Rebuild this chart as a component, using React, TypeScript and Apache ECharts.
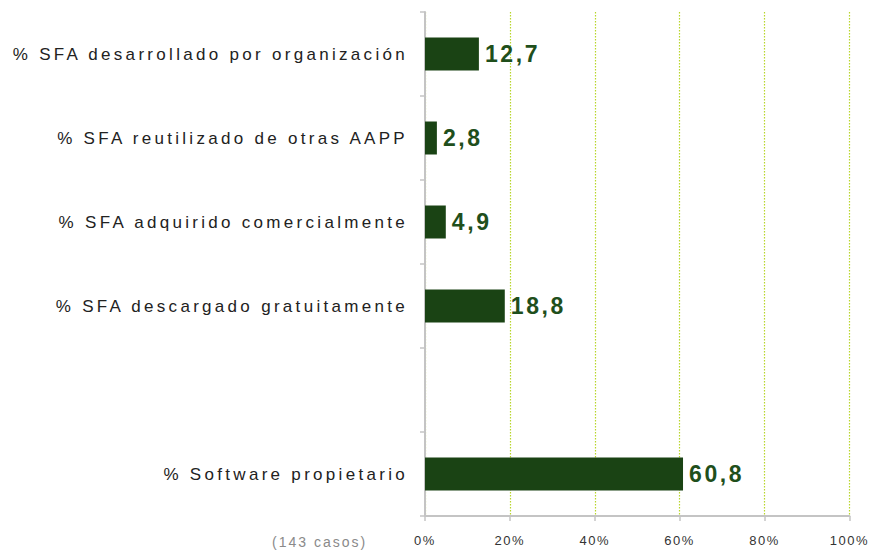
import React, { useEffect, useRef } from "react";
import * as echarts from "echarts";

const categories = [
  "% SFA desarrollado por organización",
  "% SFA reutilizado de otras AAPP",
  "% SFA adquirido comercialmente",
  "% SFA descargado gratuitamente",
  "",
  "% Software propietario",
];
const values: (number | null)[] = [12.7, 2.8, 4.9, 18.8, null, 60.8];
const xTicks = [0, 20, 40, 60, 80, 100];
const note = "(143 casos)";

export default function App() {
  const ref = useRef<HTMLDivElement>(null);
  useEffect(() => {
    if (!ref.current) return;
    const chart = echarts.init(ref.current, undefined, { renderer: "svg" });
    const font = "'Liberation Sans', Arial, sans-serif";
    chart.setOption({
      animation: false,
      grid: { left: 425, right: 19, top: 12, bottom: 39, containLabel: false },
      xAxis: {
        type: "value",
        min: xTicks[0],
        max: xTicks[xTicks.length - 1],
        interval: 20,
        axisLine: { show: true, lineStyle: { color: "#c4c4c4", width: 2 } },
        axisTick: { show: true, length: 5, lineStyle: { color: "#c4c4c4", width: 1.5 } },
        axisLabel: {
          formatter: (v: number) => v + "%",
          color: "#333",
          fontFamily: font,
          fontSize: 13,
          margin: 18,
        },
        splitLine: { show: true, lineStyle: { color: "#b8d62a", type: [1.5, 1.5], width: 1.2 } },
      },
      yAxis: {
        type: "category",
        data: categories,
        inverse: true,
        axisLine: { show: true, lineStyle: { color: "#c4c4c4", width: 2 } },
        axisTick: { show: true, length: 5, lineStyle: { color: "#c4c4c4", width: 1.5 } },
        axisLabel: { color: "#222", fontFamily: font, fontSize: 17, margin: 17 },
      },
      series: [
        {
          type: "bar",
          data: values.map((v) => (v === null ? "-" : v)),
          barWidth: 33,
          itemStyle: { color: "#1a4314" },
          label: {
            show: true,
            position: "right",
            distance: 6,
            color: "#1f4f1c",
            fontFamily: font,
            fontWeight: "bold",
            fontSize: 23,
            formatter: (p: any) => String(p.value).replace(".", ","),
          },
        },
      ],
      graphic: [
        {
          type: "text",
          left: 272,
          top: 535,
          style: { text: note, fill: "#8a8a8a", font: "14px " + font },
        },
      ],
    });
    return () => chart.dispose();
  }, []);
  return (
    <>
      <style>{`
        #chart text[style*="17px"] { letter-spacing: 3.3px; }
        #chart text[style*="23px"] { letter-spacing: 2.6px; }
        #chart text[style*="13px"] { letter-spacing: 1.5px; }
        #chart text[style*="14px"] { letter-spacing: 2px; }
      `}</style>
      <div id="chart" ref={ref} style={{ width: 869, height: 555, position: "absolute", left: 0, top: 0 }} />
    </>
  );
}
